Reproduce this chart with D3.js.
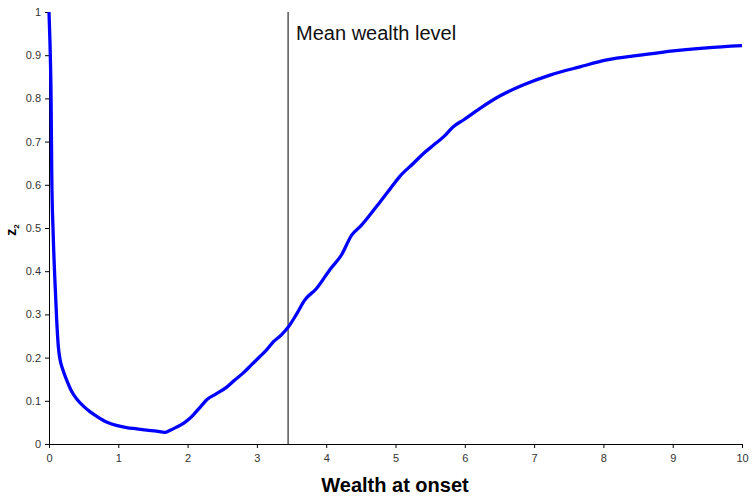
<!DOCTYPE html>
<html>
<head>
<meta charset="utf-8">
<script src="https://cdn.jsdelivr.net/npm/d3@7"></script>
<style>
  body { margin: 0; background: #fff; }
  svg { font-family: "Liberation Sans", Arial, sans-serif; }
</style>
</head>
<body>
<div id="chart-area"></div>
<script>
// data
const wealth = [0, 0.014, 0.03, 0.04, 0.06, 0.087, 0.11, 0.135, 0.16, 0.2, 0.255, 0.32, 0.4, 0.5, 0.59, 0.7, 0.83, 0.97, 1.12, 1.27, 1.41, 1.55, 1.67, 1.75, 1.84, 1.94, 2.03, 2.08, 2.18, 2.28, 2.4, 2.56, 2.68, 2.8, 2.92, 3.04, 3.14, 3.24, 3.35, 3.45, 3.57, 3.69, 3.86, 4.05, 4.22, 4.37, 4.5, 4.61, 4.78, 4.92, 5.06, 5.26, 5.4, 5.55, 5.7, 5.83, 5.98, 6.22, 6.51, 6.84, 7.23, 7.66, 8.05, 8.53, 9.01, 9.49, 10]
const z2 = [1.0, 0.93, 0.8, 0.62, 0.488, 0.372, 0.29, 0.225, 0.195, 0.172, 0.148, 0.124, 0.104, 0.087, 0.075, 0.063, 0.051, 0.043, 0.038, 0.035, 0.032, 0.03, 0.027, 0.032, 0.039, 0.048, 0.059, 0.067, 0.085, 0.103, 0.115, 0.131, 0.148, 0.164, 0.183, 0.202, 0.218, 0.237, 0.252, 0.27, 0.3, 0.333, 0.36, 0.403, 0.4375, 0.484, 0.505, 0.526, 0.561, 0.59, 0.619, 0.65, 0.672, 0.692, 0.712, 0.734, 0.75, 0.777, 0.806, 0.831, 0.854, 0.873, 0.889, 0.9, 0.91, 0.917, 0.922]
const xTicks = [0, 1, 2, 3, 4, 5, 6, 7, 8, 9, 10]
const yTicks = [0, 0.1, 0.2, 0.3, 0.4, 0.5, 0.6, 0.7, 0.8, 0.9, 1]
const meanWealth = [3.45]

const width = 752, height = 498
const margin = { left: 49, right: 10, top: 12, bottom: 54 }

const svg = d3.select("#chart-area").append("svg").attr("width", width).attr("height", height)

const x = d3.scaleLinear().domain([0, 10]).range([margin.left, width - margin.right])
const y = d3.scaleLinear().domain([0, 1]).range([height - margin.bottom, margin.top])

// axes
const xAxis = svg.append("g")
  .attr("transform", `translate(0,${y(0)})`)
  .call(d3.axisBottom(x).tickValues(xTicks).tickSize(4).tickPadding(6).tickFormat(d3.format("d")))
const yAxis = svg.append("g")
  .attr("transform", `translate(${x(0)},0)`)
  .call(d3.axisLeft(y).tickValues(yTicks).tickSize(4).tickPadding(4).tickFormat(d => d === 0 || d === 1 ? d : d3.format(".1f")(d)))

;[xAxis, yAxis].forEach(a => {
  a.select(".domain").attr("stroke", "#000")
  a.selectAll(".tick line").attr("stroke", "#000")
  a.selectAll("text").attr("font-size", 11).attr("fill", "#333").attr("font-family", "Liberation Sans, Arial, sans-serif")
})

// mean wealth line
svg.selectAll(".mean").data(meanWealth).enter()
  .append("line")
  .attr("x1", d => x(d)).attr("x2", d => x(d))
  .attr("y1", y(1)).attr("y2", y(0))
  .attr("stroke", "#000").attr("stroke-width", 1)

svg.append("text")
  .attr("x", x(meanWealth[0]) + 8)
  .attr("y", 40)
  .attr("font-size", 20)
  .attr("fill", "#111")
  .text("Mean wealth level")

// curve
const pts = wealth.map((w, i) => [w, z2[i]])
const line = d3.line().x(d => x(d[0])).y(d => y(d[1])).curve(d3.curveMonotoneX)
svg.append("path")
  .datum(pts)
  .attr("d", line)
  .attr("fill", "none")
  .attr("stroke", "#0000ff")
  .attr("stroke-width", 3.3)
  .attr("stroke-linejoin", "round")

// axis titles
svg.append("text")
  .attr("x", 395).attr("y", 492)
  .attr("text-anchor", "middle")
  .attr("font-size", 20).attr("font-weight", "bold")
  .text("Wealth at onset")

const yl = svg.append("text")
  .attr("transform", "translate(16,230) rotate(-90)")
  .attr("text-anchor", "middle")
  .attr("font-size", 14).attr("font-weight", "bold")
yl.append("tspan").text("z")
yl.append("tspan").attr("font-size", 8).attr("dy", 3).text("2")
</script>
</body>
</html>
